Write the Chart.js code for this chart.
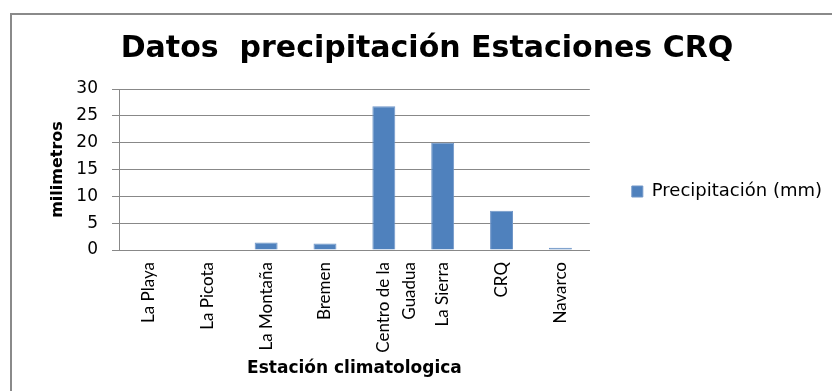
<!DOCTYPE html>
<html>
<head>
<meta charset="utf-8">
<script src="https://cdn.jsdelivr.net/npm/chart.js@4"></script>
<style>
  html, body { margin: 0; padding: 0; background: #fff; }
  #wrap { width: 832px; height: 391px; position: relative; }
</style>
</head>
<body>
<div id="wrap"><canvas id="c" width="832" height="391"></canvas></div>
<script>
const categories = ['La Playa', 'La Picota', 'La Montaña', 'Bremen', ['Centro de la', 'Guadua'], 'La Sierra', 'CRQ', 'Navarco'];
const precipitacion = [0, 0, 1.4, 1.2, 26.8, 20, 7.3, 0.4];
const seriesName = 'Precipitación (mm)';
const titleText = 'Datos  precipitación Estaciones CRQ';
const yTitle = 'milimetros';
const xTitle = 'Estación climatologica';
const yMax = 30, yStep = 5;

const narrow = "Lato, 'Open Sans', sans-serif";
const wide = "'DejaVu Sans', 'Open Sans', sans-serif";

const framePlugin = {
  id: 'frame',
  beforeDraw(chart) {
    const ctx = chart.ctx;
    ctx.save();
    ctx.fillStyle = '#fff';
    ctx.fillRect(0, 0, chart.width, chart.height);
    ctx.strokeStyle = '#8a8a8a';
    ctx.lineWidth = 2;
    ctx.strokeRect(11, 14, 900, 500);
    ctx.restore();
  }
};

new Chart(document.getElementById('c'), {
  type: 'bar',
  data: {
    labels: categories,
    datasets: [{
      label: seriesName,
      data: precipitacion,
      backgroundColor: '#4F81BD',
      borderColor: '#7096c8',
      borderWidth: 1,
      barPercentage: 0.39,
      categoryPercentage: 1.0
    }]
  },
  options: {
    responsive: false,
    animation: false,
    layout: { padding: { left: 22, right: 0, top: 0, bottom: 8 } },
    plugins: {
      title: {
        display: true,
        text: titleText,
        color: '#000',
        font: { family: wide, size: 30, weight: 'bold' },
        padding: { top: 31, bottom: 22 }
      },
      legend: {
        display: true,
        position: 'right',
        fullSize: false,
        align: 'center',
        maxWidth: 244,
        title: { display: true, text: '', font: { size: 10 }, padding: 16 },
        labels: {
          boxWidth: 11,
          boxHeight: 11,
          padding: 42,
          color: '#000',
          font: { family: wide, size: 18 }
        }
      },
      tooltip: { enabled: false }
    },
    scales: {
      x: {
        grid: { display: false, drawTicks: false },
        border: { display: true, color: '#888', width: 1 },
        ticks: {
          maxRotation: 90,
          minRotation: 90,
          padding: 12,
          color: '#000',
          font: { family: narrow, size: 17, lineHeight: 1.5 }
        },
        title: {
          display: true,
          text: xTitle,
          color: '#000',
          font: { family: wide, size: 17, weight: 'bold' },
          padding: { top: 4, bottom: 4 }
        },
        afterFit(s) { s.height = 391 - 250 - 8; }
      },
      y: {
        min: 0,
        max: yMax,
        grid: { color: '#888', tickLength: 7, drawTicks: true },
        border: { display: true, color: '#888', width: 1 },
        ticks: {
          stepSize: yStep,
          padding: 14,
          color: '#000',
          font: { family: wide, size: 17 }
        },
        title: {
          display: true,
          text: yTitle,
          color: '#000',
          font: { family: wide, size: 16, weight: 'bold' },
          padding: { top: 26, bottom: 0 }
        },
        afterFit(s) { s.width = 119 - 22; }
      }
    }
  },
  plugins: [framePlugin]
});
</script>
</body>
</html>
